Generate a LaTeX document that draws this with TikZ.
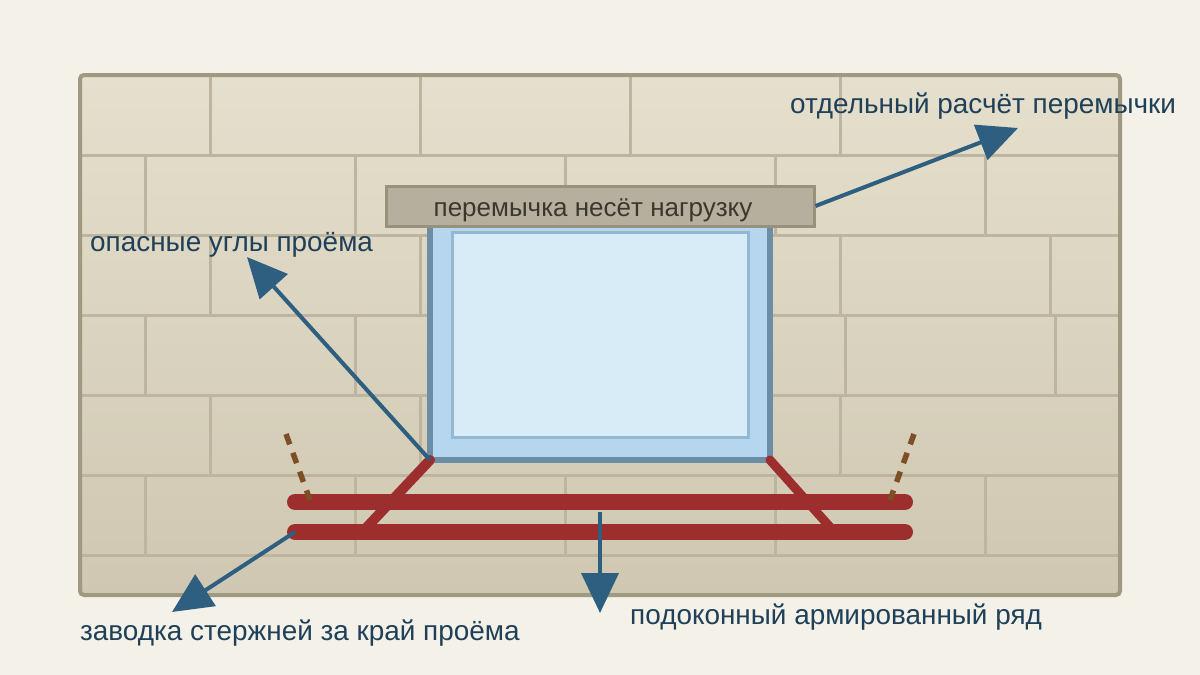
\documentclass[tikz,border=0pt]{standalone}
\usepackage{fontspec}
\setmainfont{Liberation Sans}
\usetikzlibrary{arrows.meta}
\definecolor{fond}{HTML}{F4F1E8}
\definecolor{mortier}{HTML}{BDB5A0}
\definecolor{cadre}{HTML}{9F9981}
\definecolor{murhaut}{HTML}{E5DFCD}
\definecolor{murbas}{HTML}{CFC7B1}
\definecolor{dormant}{HTML}{6B8DA6}
\definecolor{tableau}{HTML}{B5D6EE}
\definecolor{vitre}{HTML}{D8ECF8}
\definecolor{vitrebord}{HTML}{92B8D2}
\definecolor{linteau}{HTML}{B6AF9D}
\definecolor{linteaubord}{HTML}{98917B}
\definecolor{linteautexte}{HTML}{3A382C}
\definecolor{fer}{HTML}{9C2E2E}
\definecolor{brun}{HTML}{7D4F24}
\definecolor{fleche}{HTML}{2E5F80}
\definecolor{texte}{HTML}{1F4058}
\tikzset{
	joint/.style={draw=mortier,line width=3},
	barre/.style={draw=fer,line width=16,line cap=round},
	biais/.style={draw=fer,line cap=round},
	pointille/.style={draw=brun,line width=5.5,dash pattern=on 11 off 9},
	renvoi/.style={draw=fleche,line width=4,-{Triangle[length=40pt,width=37pt]}},
	legende/.style={anchor=base west,inner sep=0,text=texte,font=\fontsize{27.9}{32}\selectfont},
}
\begin{document}
\begin{tikzpicture}[x=1pt,y=-1pt]
	%
	% Fond
	\fill[fond] (0,0) rectangle (1200,675);
	\path[top color=murhaut,bottom color=murbas,rounded corners=4] (80,75) rectangle (1120,595);
	%
	% Joints
	\foreach \y in {155,235,315,395,475,555}
		\draw[joint] (80,\y) -- (1120,\y);
	\foreach \x in {210,420,630,840}
		\draw[joint] (\x,75) -- (\x,155);
	\foreach \x in {145,355,565,775,985}
		\draw[joint] (\x,155) -- (\x,235);
	\foreach \x in {210,420,630,840,1050}
		\draw[joint] (\x,235) -- (\x,315);
	\foreach \x in {145,355,845,1055}
		\draw[joint] (\x,315) -- (\x,395);
	\foreach \x in {210,420,840}
		\draw[joint] (\x,395) -- (\x,475);
	\foreach \x in {145,355,565,775,985}
		\draw[joint] (\x,475) -- (\x,555);
	\draw[draw=cadre,line width=4,rounded corners=4] (80,75) rectangle (1120,595);
	%
	% Fenetre
	\draw[draw=dormant,fill=tableau,line width=6] (430,215) rectangle (770,460);
	\draw[draw=vitrebord,fill=vitre,line width=3] (452,232) rectangle (748,437);
	\node[draw=linteaubord,fill=linteau,line width=3,minimum width=428,minimum height=40,inner sep=0,text height=24,text depth=4,text=linteautexte,font=\fontsize{26}{30}\selectfont] (perem) at (600,206) {перемычка несёт нагрузку\kern14pt};
	%
	% Armature
	\coordinate (coinG) at (430,460);
	\coordinate (coinD) at (770,460);
	\coordinate (barreG) at (295,532);
	\coordinate (barreM) at (600,512);
	\draw[biais,line width=10] (coinG) -- (367,527);
	\draw[biais,line width=9] (coinD) -- (830,527);
	\draw[barre] (295,502) -- (905,502);
	\draw[barre] (barreG) -- (905,532);
	\draw[pointille] (286,434) -- (310,500);
	\draw[pointille] (914,434) -- (890,500);
	%
	% Legendes
	\node[legende] (calcul) at (790,113) {отдельный расчёт перемычки};
	\node[legende] (angles) at (90,251) {опасные углы проёма};
	\node[legende] (ancrage) at (80,640) {заводка стержней за край проёма};
	\node[legende] (rang) at (630,624) {подоконный армированный ряд};
	%
	% Fleches
	\coordinate (pointeA) at (1018,128);
	\coordinate (pointeB) at (247,257);
	\coordinate (pointeC) at (172,612);
	\coordinate (pointeD) at (600,613);
	\draw[renvoi] (perem.east) -- (pointeA);
	\draw[renvoi] (coinG) -- (pointeB);
	\draw[renvoi] (barreG) -- (pointeC);
	\draw[renvoi] (barreM) -- (pointeD);
\end{tikzpicture}
\end{document}
